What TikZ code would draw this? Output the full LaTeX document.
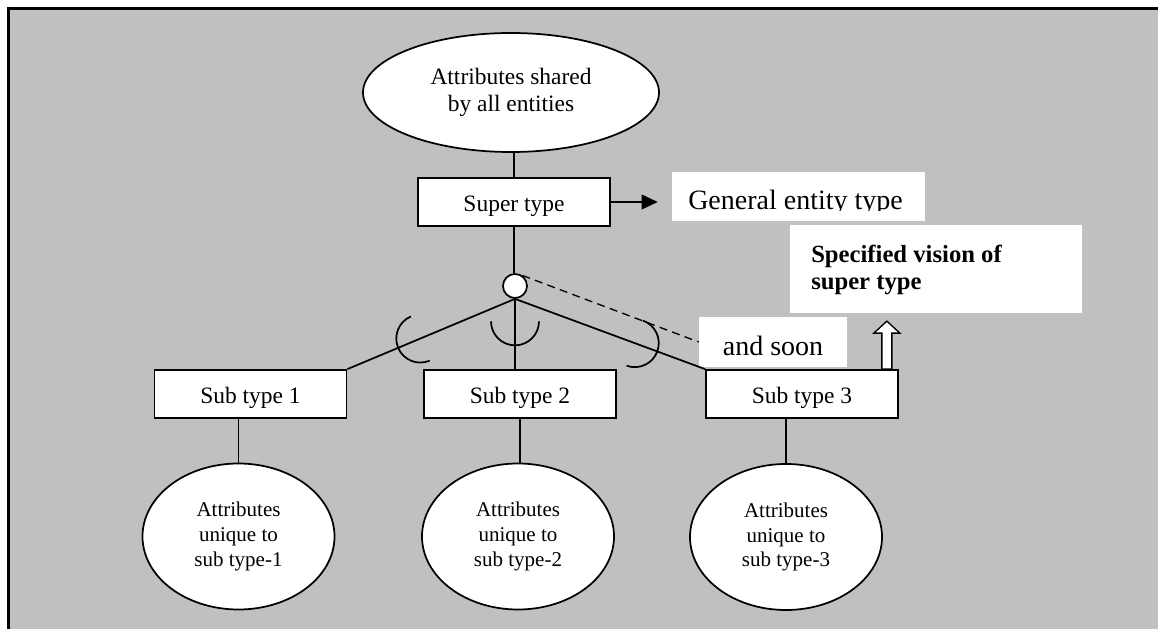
\documentclass[tikz,border=0pt]{standalone}
\usepackage{fontspec}
\setmainfont{Liberation Serif}
\usetikzlibrary{shapes.geometric,arrows.meta}
\definecolor{panel}{HTML}{C0C0C0}
\begin{document}
\begin{tikzpicture}[x=0.75pt,y=0.75pt,
  link/.style={line width=1.3pt},
  entity/.style={draw, line width=1.3pt, fill=white, rectangle,
    minimum width=144pt, minimum height=36pt, inner sep=0pt,
    text height=15pt, text depth=0pt,
    font=\fontsize{17.6}{20.25}\selectfont},
  attr/.style={draw, line width=1.3pt, fill=white, ellipse, inner sep=0pt, align=center},
  uniq/.style={attr, minimum width=144pt, minimum height=109.5pt,
    font=\fontsize{15.75}{18.4}\selectfont},
  note/.style={fill=white, rectangle, inner sep=0pt}
]
\useasboundingbox (0,0) rectangle (1158,629);

% grey panel with its top and left rule
\fill[panel] (8.5,0) rectangle (1158,620.5);
\draw[line width=2pt] (8.5,0) -- (8.5,620.5) -- (1158,620.5);

% super type and its shared attributes
\node[attr, minimum width=222pt, minimum height=89.25pt,
  font=\fontsize{17.6}{20.25}\selectfont] (shared) at (511,536.5)
  {Attributes shared\\by all entities};
\node[entity] (super) at (514,427) {Super type};

% captions
\node[note, minimum width=189.75pt, minimum height=36.75pt] (general) at (798.5,432.5) {};
\begin{scope}
  \clip (672,418.5) rectangle (925,458);
  \node[anchor=base west, inner sep=0pt, font=\fontsize{21}{25}\selectfont]
    (generaltext) at (688,419) {General entity type};
\end{scope}
\node[note, minimum width=219pt, minimum height=66pt] (spec) at (936,360) {};
\node[anchor=west, inner sep=0pt, align=left,
  font=\bfseries\fontsize{18.5}{20.25}\selectfont] (spectext) at (811,359.5)
  {Specified vision of\\super type};
\node[note, minimum width=111pt, minimum height=37.5pt,
  text height=21pt, text depth=0pt,
  font=\fontsize{21}{25}\selectfont] (soon) at (773,287) {and soon};

% specialisation circle
\node[draw, line width=1.3pt, fill=white, circle, minimum size=18pt, inner sep=0pt] (isa) at (515,343) {};

% sub types
\node[entity] (sub1) at (250.5,235) {Sub type 1};
\node[entity] (sub2) at (520,235) {Sub type 2};
\node[entity] (sub3) at (802,235) {Sub type 3};

% attributes unique to each sub type
\node[uniq] (uniq1) at (238.5,92.5) {Attributes\\unique to\\sub type-1};
\node[uniq] (uniq2) at (518,92.5) {Attributes\\unique to\\sub type-2};
\node[uniq] (uniq3) at (786,92) {Attributes\\unique to\\sub type-3};

% connectors
\draw[link] (super.north |- shared.south) -- (super.north);
\draw[link] (super.south) -- (super.south |- isa.north);
\draw[link, -{Triangle[length=12pt,width=11pt]}, shorten >=10.5pt]
  (super.east) -- (super.east -| general.west);

\draw[link] (isa.south) -- coordinate[pos=0.565] (c1) (sub1.north east);
\draw[link] (isa.south) -- coordinate[pos=0.32] (c2) (isa.south |- sub2.north);
\draw[link] (isa.south) -- coordinate[pos=0.63] (c3) (sub3.north west);

% subset marks across the branches
\draw[link] ([shift={(113:18pt)}]c1) arc[start angle=113, end angle=293, radius=18pt];
\draw[link] ([shift={(180:18pt)}]c2) arc[start angle=180, end angle=360, radius=18pt];
\draw[link] ([shift={(-110:18pt)}]c3) arc[start angle=-110, end angle=70, radius=18pt];

\draw[link, line width=1pt, dash pattern=on 6pt off 4pt] (isa.55) -- (soon.west);

\draw[link] (uniq1.north |- sub1.south) -- (uniq1.north);
\draw[link] (sub2.south) -- (sub2.south |- uniq2.north);
\draw[link] (uniq3.north |- sub3.south) -- (uniq3.north);

% hollow block arrow from sub type 3 towards the caption
\coordinate (up) at ([xshift=-9pt]sub3.north east);
\draw[line width=1pt, fill=white, shift={(up)}]
  (-5,0) -- (-5,36) -- (-13,36) -- (0,48) -- (13,36) -- (5,36) -- (5,0) -- cycle;
\end{tikzpicture}
\end{document}
